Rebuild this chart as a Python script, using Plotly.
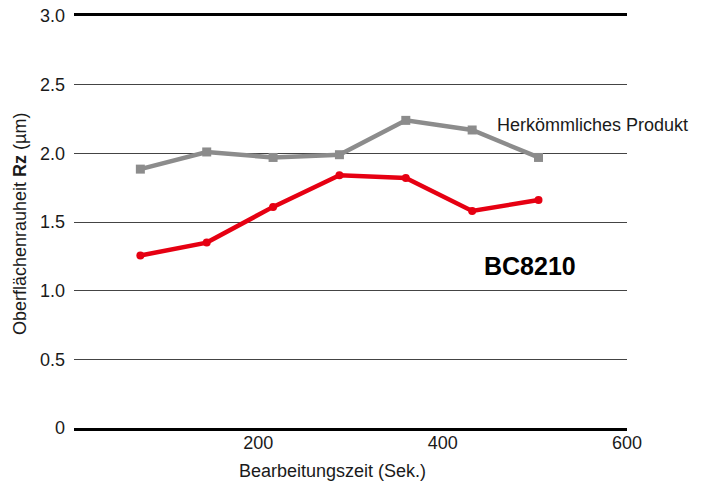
import plotly.graph_objects as go

time_s = [72, 144, 216, 288, 360, 432, 504]
conventional = [1.885, 2.01, 1.97, 1.99, 2.24, 2.17, 1.97]
bc8210 = [1.256, 1.35, 1.61, 1.84, 1.82, 1.58, 1.66]
x_ticks = [200, 400, 600]
x_ticklabels = ["200", "400", "600"]
y_ticks = [0, 0.5, 1.0, 1.5, 2.0, 2.5, 3.0]
y_ticklabels = ["0", "0.5", "1.0", "1.5", "2.0", "2.5", "3.0"]

FONT = "Liberation Sans, Arial, sans-serif"

fig = go.Figure()
fig.add_trace(go.Scatter(
    x=time_s, y=conventional, mode="lines+markers",
    line=dict(color="#8c8c8c", width=4.5),
    marker=dict(symbol="square", size=9, color="#8c8c8c"),
    name="Herkömmliches Produkt", showlegend=False,
))
fig.add_trace(go.Scatter(
    x=time_s, y=bc8210, mode="lines+markers",
    line=dict(color="#e60012", width=4.5),
    marker=dict(symbol="circle", size=8, color="#e60012"),
    name="BC8210", showlegend=False,
))

fig.update_layout(
    width=710, height=486, autosize=False,
    margin=dict(l=74, r=83, t=16, b=58, autoexpand=False),
    paper_bgcolor="white", plot_bgcolor="white",
    font=dict(family=FONT, size=18, color="#1a1a1a"),
    xaxis=dict(
        range=[0, 600], tickvals=x_ticks, ticktext=x_ticklabels,
        showgrid=False, zeroline=False, showline=True, linecolor="black",
        linewidth=2.5, mirror=True, ticks="", automargin=False,
        ticklabelstandoff=-3,
        tickfont=dict(size=18, family=FONT, color="#1a1a1a"),
    ),
    yaxis=dict(
        range=[0, 3.0], tickvals=y_ticks, ticktext=y_ticklabels,
        showgrid=True, gridcolor="#444444", gridwidth=1,
        zeroline=False, showline=False, ticks="", automargin=False,
        ticklabelstandoff=8,
        tickfont=dict(size=18, family=FONT, color="#1a1a1a"),
    ),
    annotations=[
        dict(text="Bearbeitungszeit (Sek.)", xref="paper", yref="paper",
             x=0.4675, y=-0.104, xanchor="center", yanchor="middle",
             showarrow=False, font=dict(size=18, family=FONT, color="#1a1a1a")),
        dict(text="Oberflächenrauheit <b>Rz</b> (µm)", xref="paper", yref="paper",
             x=-0.0976, y=0.495, xanchor="center", yanchor="middle", textangle=-90,
             showarrow=False, font=dict(size=18, family=FONT, color="#1a1a1a")),
        dict(text="Herkömmliches Produkt", xref="paper", yref="paper",
             x=0.761, y=0.735, xanchor="left", yanchor="middle",
             showarrow=False, font=dict(size=18, family=FONT, color="#1a1a1a")),
        dict(text="<b>BC8210</b>", xref="paper", yref="paper",
             x=0.8246, y=0.394, xanchor="center", yanchor="middle",
             showarrow=False, font=dict(size=25, family=FONT, color="black")),
    ],
)

fig.write_html("out.html", config={"displayModeBar": False},
               post_script="document.body.style.margin='0';")
